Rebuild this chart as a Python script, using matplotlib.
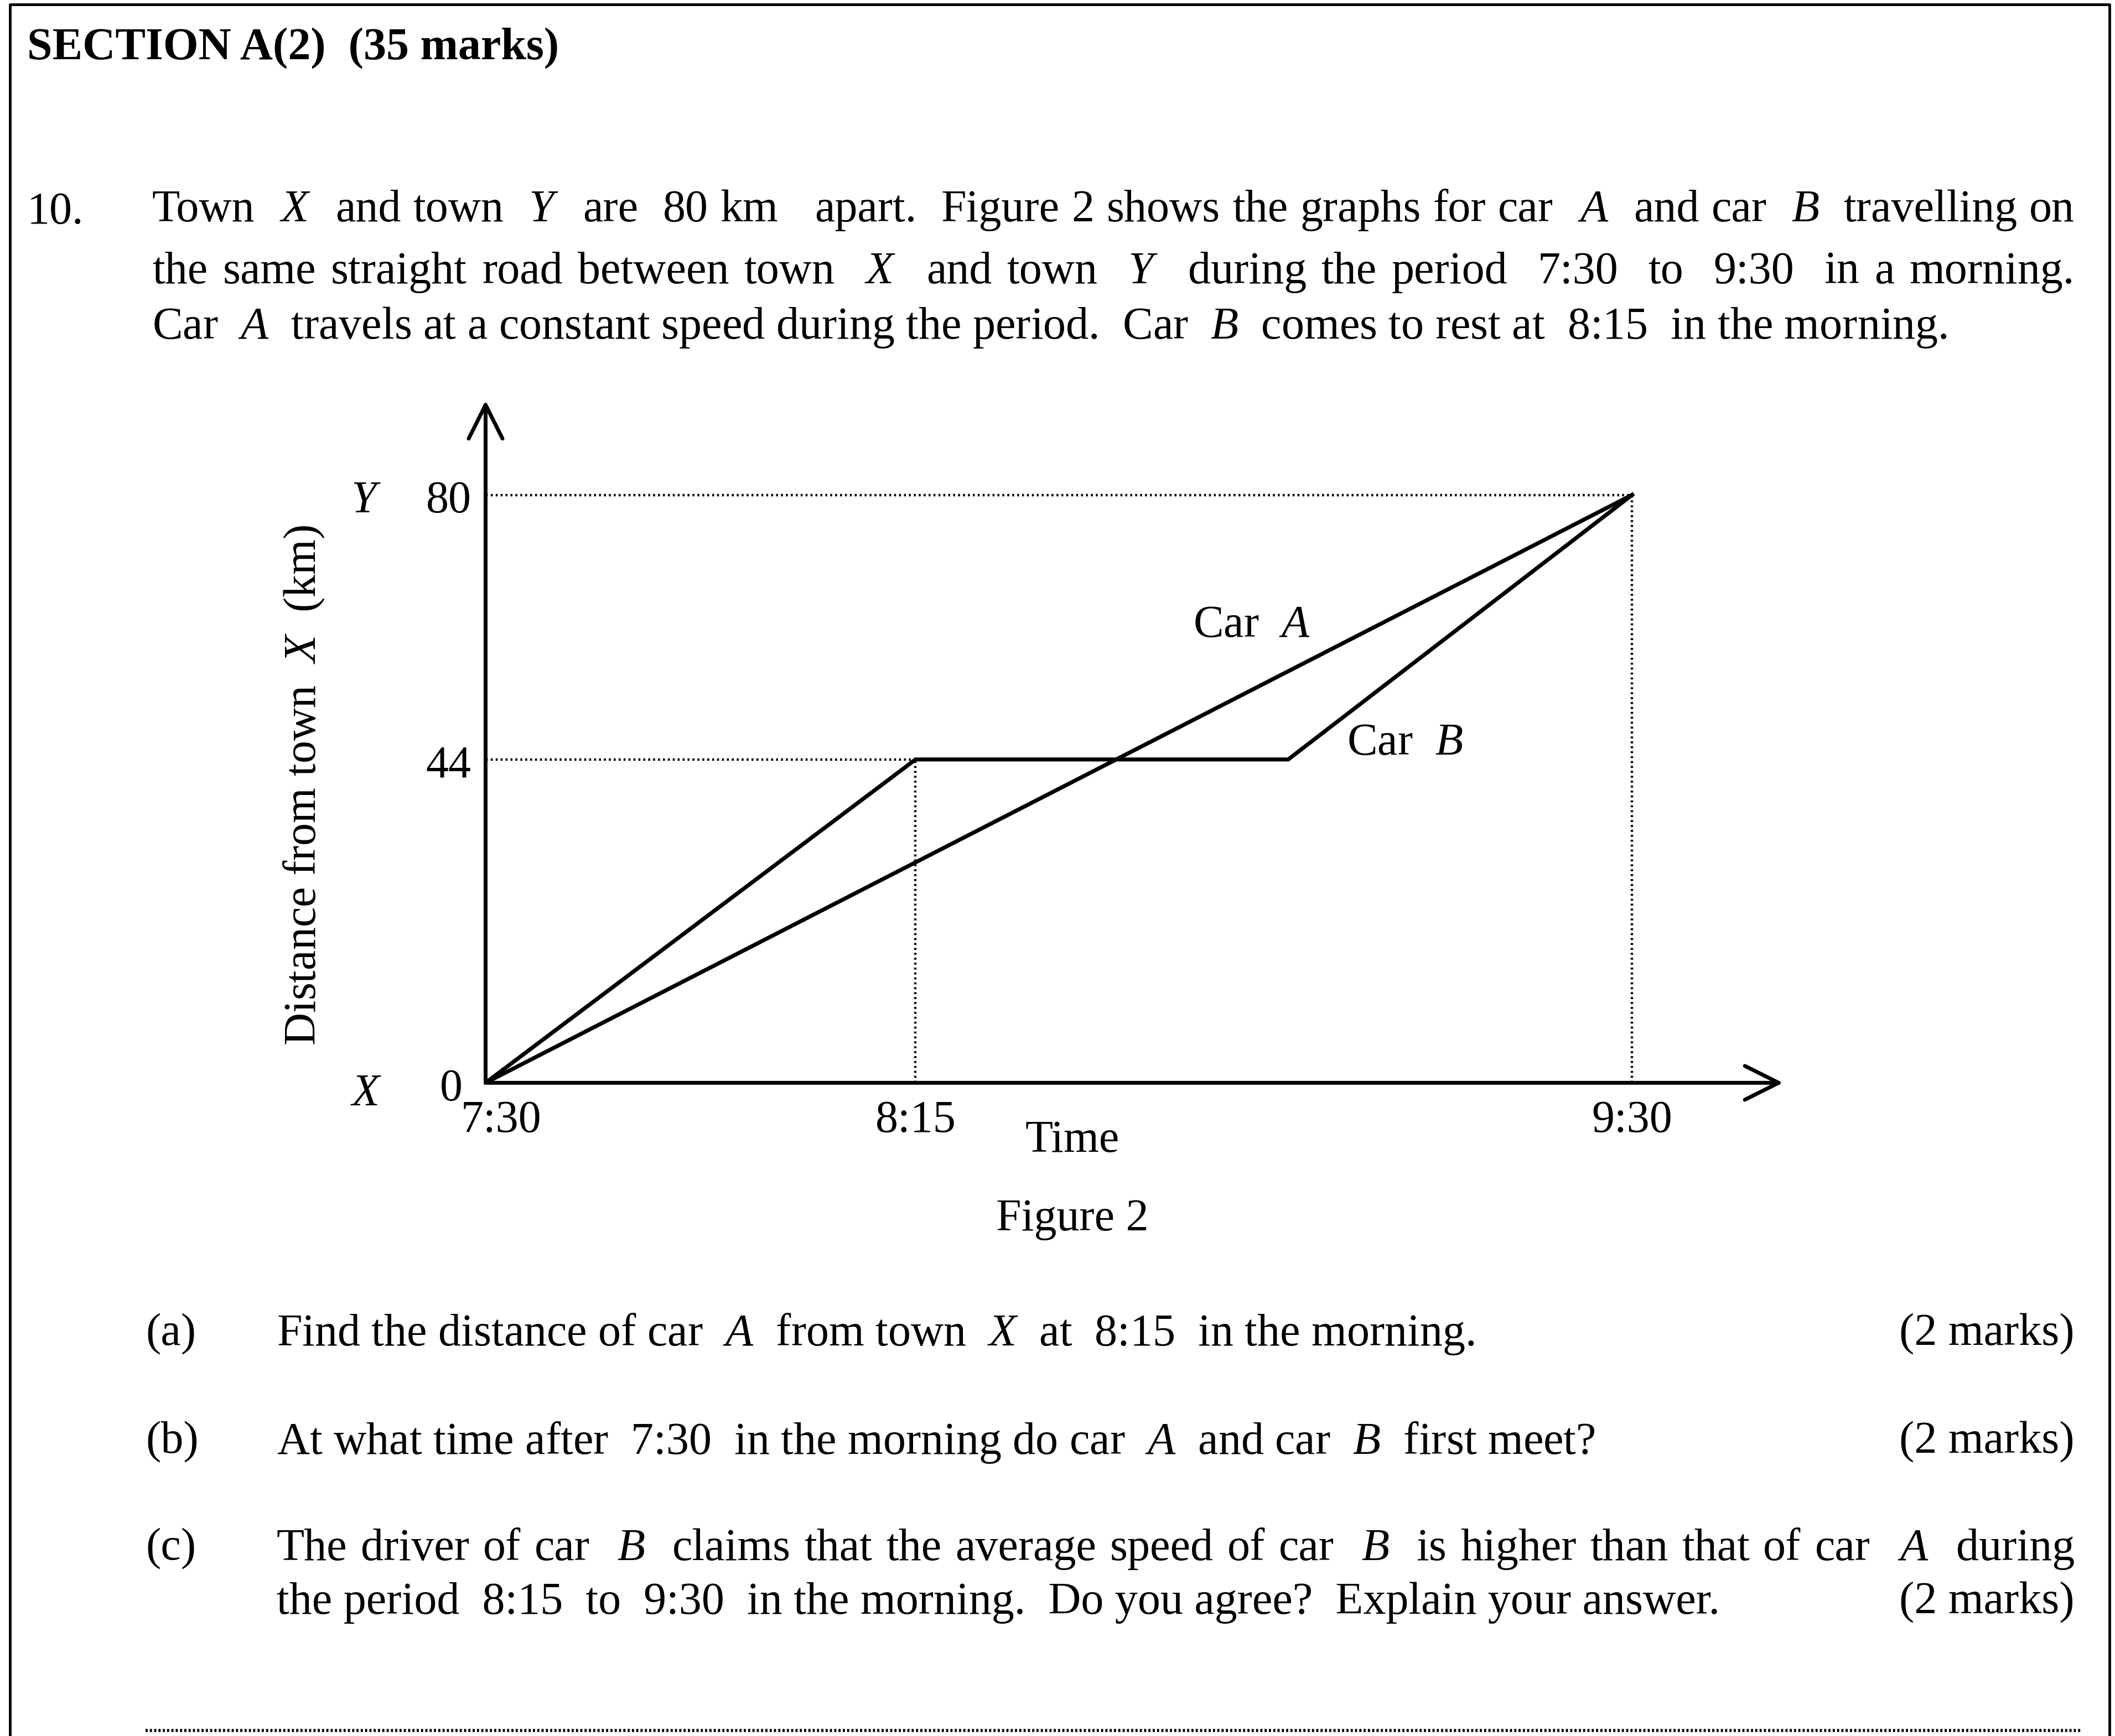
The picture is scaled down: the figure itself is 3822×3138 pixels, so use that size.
import matplotlib
matplotlib.use("Agg")
import matplotlib.pyplot as plt

plt.rcParams['font.family'] = 'Liberation Serif'
plt.rcParams['mathtext.fontset'] = 'custom'
plt.rcParams['mathtext.rm'] = 'Liberation Serif'
plt.rcParams['mathtext.it'] = 'Liberation Serif:italic'
plt.rcParams['mathtext.bf'] = 'Liberation Serif:bold'

# minutes after 7:30, distance from X in km
car_a_t = [0, 120]
car_a_d = [0, 80]
car_b_t = [0, 45, 84, 120]
car_b_d = [0, 44, 44, 80]
tick_t = [0, 45, 120]
tick_labels = ['7:30', '8:15', '9:30']
dist_marks = [0, 44, 80]

W, H = 3822, 3138
fig = plt.figure(figsize=(W / 100, H / 100), dpi=100)
FS = 59
rend = fig.canvas.get_renderer()


def T(x, y, s, **kw):
    kw.setdefault('fontsize', FS)
    kw.setdefault('va', 'center')
    return fig.text(x / W, 1 - y / H, s, **kw)


def width(s):
    t = T(0, 0, s)
    w = t.get_window_extent(rend).width
    t.remove()
    return w


def justify(x, y, s, right):
    # spread the gaps so the line ends at the right margin
    words = s.split(' ')
    ws = [width(w) if w else 0 for w in words]
    n = len(words) - 1
    gap = (right - x - sum(ws)) / n
    for w, wd in zip(words, ws):
        if w:
            T(x, y, w)
        x += wd + gap


# page frame
frame = fig.add_axes([0, 0, 1, 1])
frame.set_xlim(0, W)
frame.set_ylim(H, 0)
frame.axis('off')
frame.plot([18, 18, 3812, 3812], [H, 8, 8, H], color='black', lw=3.5)
frame.plot([263, 3760], [3128, 3128], color='black', lw=4.0, ls=(0, (0.7, 0.7)))

T(49, 88, r'SECTION A(2)  (35 marks)', fontweight='bold')
T(49, 384, '10.')
justify(275, 380, r'Town  $X$  and town  $Y$  are  80 km   apart.  Figure 2 shows the graphs for car  $A$  and car  $B$  travelling on', 3749)
justify(275, 492, r'the same straight road between town  $X$  and town  $Y$  during the period  7:30  to  9:30  in a morning.', 3749)
T(275, 592, r'Car  $A$  travels at a constant speed during the period.  Car  $B$  comes to rest at  8:15  in the morning.')

# chart
x0, y0 = 877.5, 1957.3
xpm = (2949.4 - x0) / 120
ypk = (y0 - 894.6) / 80
xmax = (3222 - x0) / xpm
ymax = (y0 - 724) / ypk
ax = fig.add_axes([x0 / W, 1 - y0 / H, (3222 - x0) / W, (y0 - 724) / H])
ax.set_xlim(0, xmax)
ax.set_ylim(0, ymax)
ax.axis('off')

dot = (0, (0.8, 1.2))
ax.plot([0, tick_t[2]], [dist_marks[2]] * 2, color='black', lw=3.2, ls=dot)
ax.plot([0, tick_t[1]], [dist_marks[1]] * 2, color='black', lw=3.2, ls=dot)
ax.plot([tick_t[1]] * 2, [0, dist_marks[1]], color='black', lw=3.2, ls=dot)
ax.plot([tick_t[2]] * 2, [0, dist_marks[2]], color='black', lw=3.2, ls=dot)

ax.plot(car_a_t, car_a_d, color='black', lw=5.2, solid_joinstyle='miter')
ax.plot(car_b_t, car_b_d, color='black', lw=5.2, solid_joinstyle='miter')

arrow = dict(arrowstyle='->, head_length=1.1, head_width=0.55', lw=5.0,
             color='black', shrinkA=0, shrinkB=0, mutation_scale=40)
ax.annotate('', xy=(1, 0), xytext=(0, 0), xycoords='axes fraction', arrowprops=arrow)
ax.annotate('', xy=(0, 1), xytext=(0, 0), xycoords='axes fraction', arrowprops=arrow)

for t, lab in zip(tick_t, tick_labels):
    ax.text(t + (1.6 if t == 0 else 0), -5.2, lab, ha='center', va='center', fontsize=FS)
for d in dist_marks:
    ax.text(-1.5 if d else -2.4, d - 0.9, str(d), ha='right', va='center', fontsize=FS)
ax.text(-12.5, 79.1, '$Y$', ha='center', va='center', fontsize=FS)
ax.text(-12.5, -1.6, '$X$', ha='center', va='center', fontsize=FS)
ax.text(61.4, -7.9, 'Time', ha='center', va='center', fontsize=FS)
ax.text(80.2, 62.2, r'Car  $A$', ha='center', va='center', fontsize=FS)
ax.text(96.2, 46.2, r'Car  $B$', ha='center', va='center', fontsize=FS)

T(550, 1419, r'Distance from town  $X$  (km)', rotation=90, ha='center')
T(1938, 2204, 'Figure 2', ha='center')

# questions
T(263, 2412, '(a)')
T(500, 2412, r'Find the distance of car  $A$  from town  $X$  at  8:15  in the morning.')
T(3749, 2412, '(2 marks)', ha='right')
T(263, 2607, '(b)')
T(500, 2607, r'At what time after  7:30  in the morning do car  $A$  and car  $B$  first meet?')
T(3749, 2607, '(2 marks)', ha='right')
T(263, 2800, '(c)')
justify(500, 2800, r'The driver of car  $B$  claims that the average speed of car  $B$  is higher than that of car  $A$  during', 3749)
T(500, 2897, r'the period  8:15  to  9:30  in the morning.  Do you agree?  Explain your answer.')
T(3749, 2897, '(2 marks)', ha='right')

fig.savefig('out.png', dpi=100, facecolor='white')
